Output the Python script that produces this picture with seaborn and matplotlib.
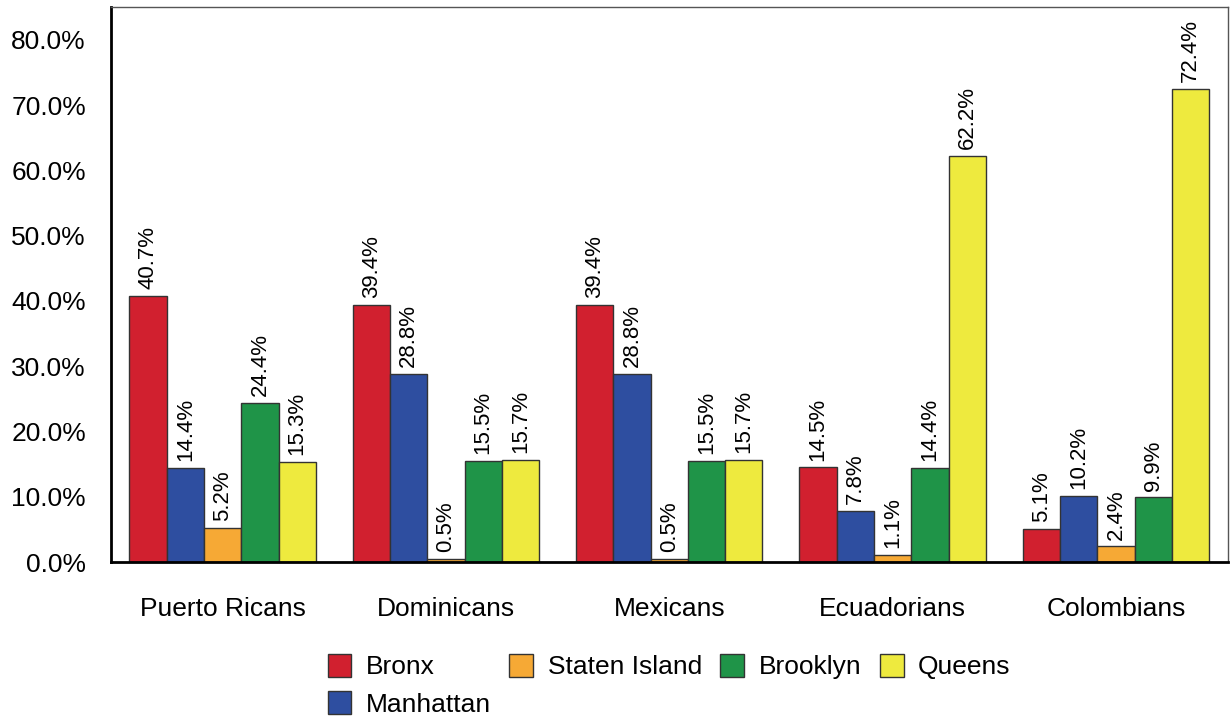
import numpy as np
import pandas as pd
import seaborn as sns
import matplotlib.pyplot as plt

# data
groups = ['Puerto Ricans', 'Dominicans', 'Mexicans', 'Ecuadorians', 'Colombians']
boroughs = ['Bronx', 'Manhattan', 'Staten Island', 'Brooklyn', 'Queens']
bronx = [40.7, 39.4, 39.4, 14.5, 5.1]
manhattan = [14.4, 28.8, 28.8, 7.8, 10.2]
staten_island = [5.2, 0.5, 0.5, 1.1, 2.4]
brooklyn = [24.4, 15.5, 15.5, 14.4, 9.9]
queens = [15.3, 15.7, 15.7, 62.2, 72.4]
colors = ['#D1202F', '#2E4EA0', '#F6A935', '#1F9448', '#EEEA3E']
yticks = [0, 10, 20, 30, 40, 50, 60, 70, 80]

values = [bronx, manhattan, staten_island, brooklyn, queens]
rows = []
for b, vals in zip(boroughs, values):
    for g, v in zip(groups, vals):
        rows.append({'group': g, 'borough': b, 'pct': v})
df = pd.DataFrame(rows)

sns.set_style('white')
plt.rcParams['font.family'] = ['Liberation Sans', 'DejaVu Sans']
plt.rcParams['text.color'] = 'black'
plt.rcParams['xtick.color'] = 'black'
plt.rcParams['ytick.color'] = 'black'

fig = plt.figure(figsize=(12.3, 7.17), dpi=100)
ax = fig.add_axes([0.0902, 0.216, 0.9078, 0.774])

sns.barplot(data=df, x='group', y='pct', hue='borough', order=groups,
            hue_order=boroughs, palette=colors, width=0.835,
            edgecolor='#333333', linewidth=1, saturation=1, ax=ax)

for cont in ax.containers:
    ax.bar_label(cont, fmt='%.1f%%', rotation=90, padding=5, fontsize=16,
                 color='black')

ax.set_xlim(-0.5, 4.5)
ax.set_ylim(0, 85)
ax.set_yticks(yticks)
ax.set_yticklabels(['%.1f%%' % t for t in yticks], fontsize=19)
ax.tick_params(axis='x', labelsize=19, length=0, pad=25)
ax.tick_params(axis='y', length=0, pad=18)
ax.set_xlabel('')
ax.set_ylabel('')

for s in ['left', 'bottom']:
    ax.spines[s].set_color('black')
    ax.spines[s].set_linewidth(2)
for s in ['top', 'right']:
    ax.spines[s].set_color('#555555')
    ax.spines[s].set_linewidth(1)

handles, labels = ax.get_legend_handles_labels()
ax.get_legend().remove()
fig.legend(handles, labels, loc='upper center', bbox_to_anchor=(0.544, 0.0955),
           ncol=4, frameon=False, fontsize=19, handlelength=0.9,
           handleheight=0.95, handletextpad=0.55, columnspacing=0.7,
           labelspacing=0.45, borderaxespad=0, borderpad=0.2)

fig.savefig('out.png', dpi=100)
